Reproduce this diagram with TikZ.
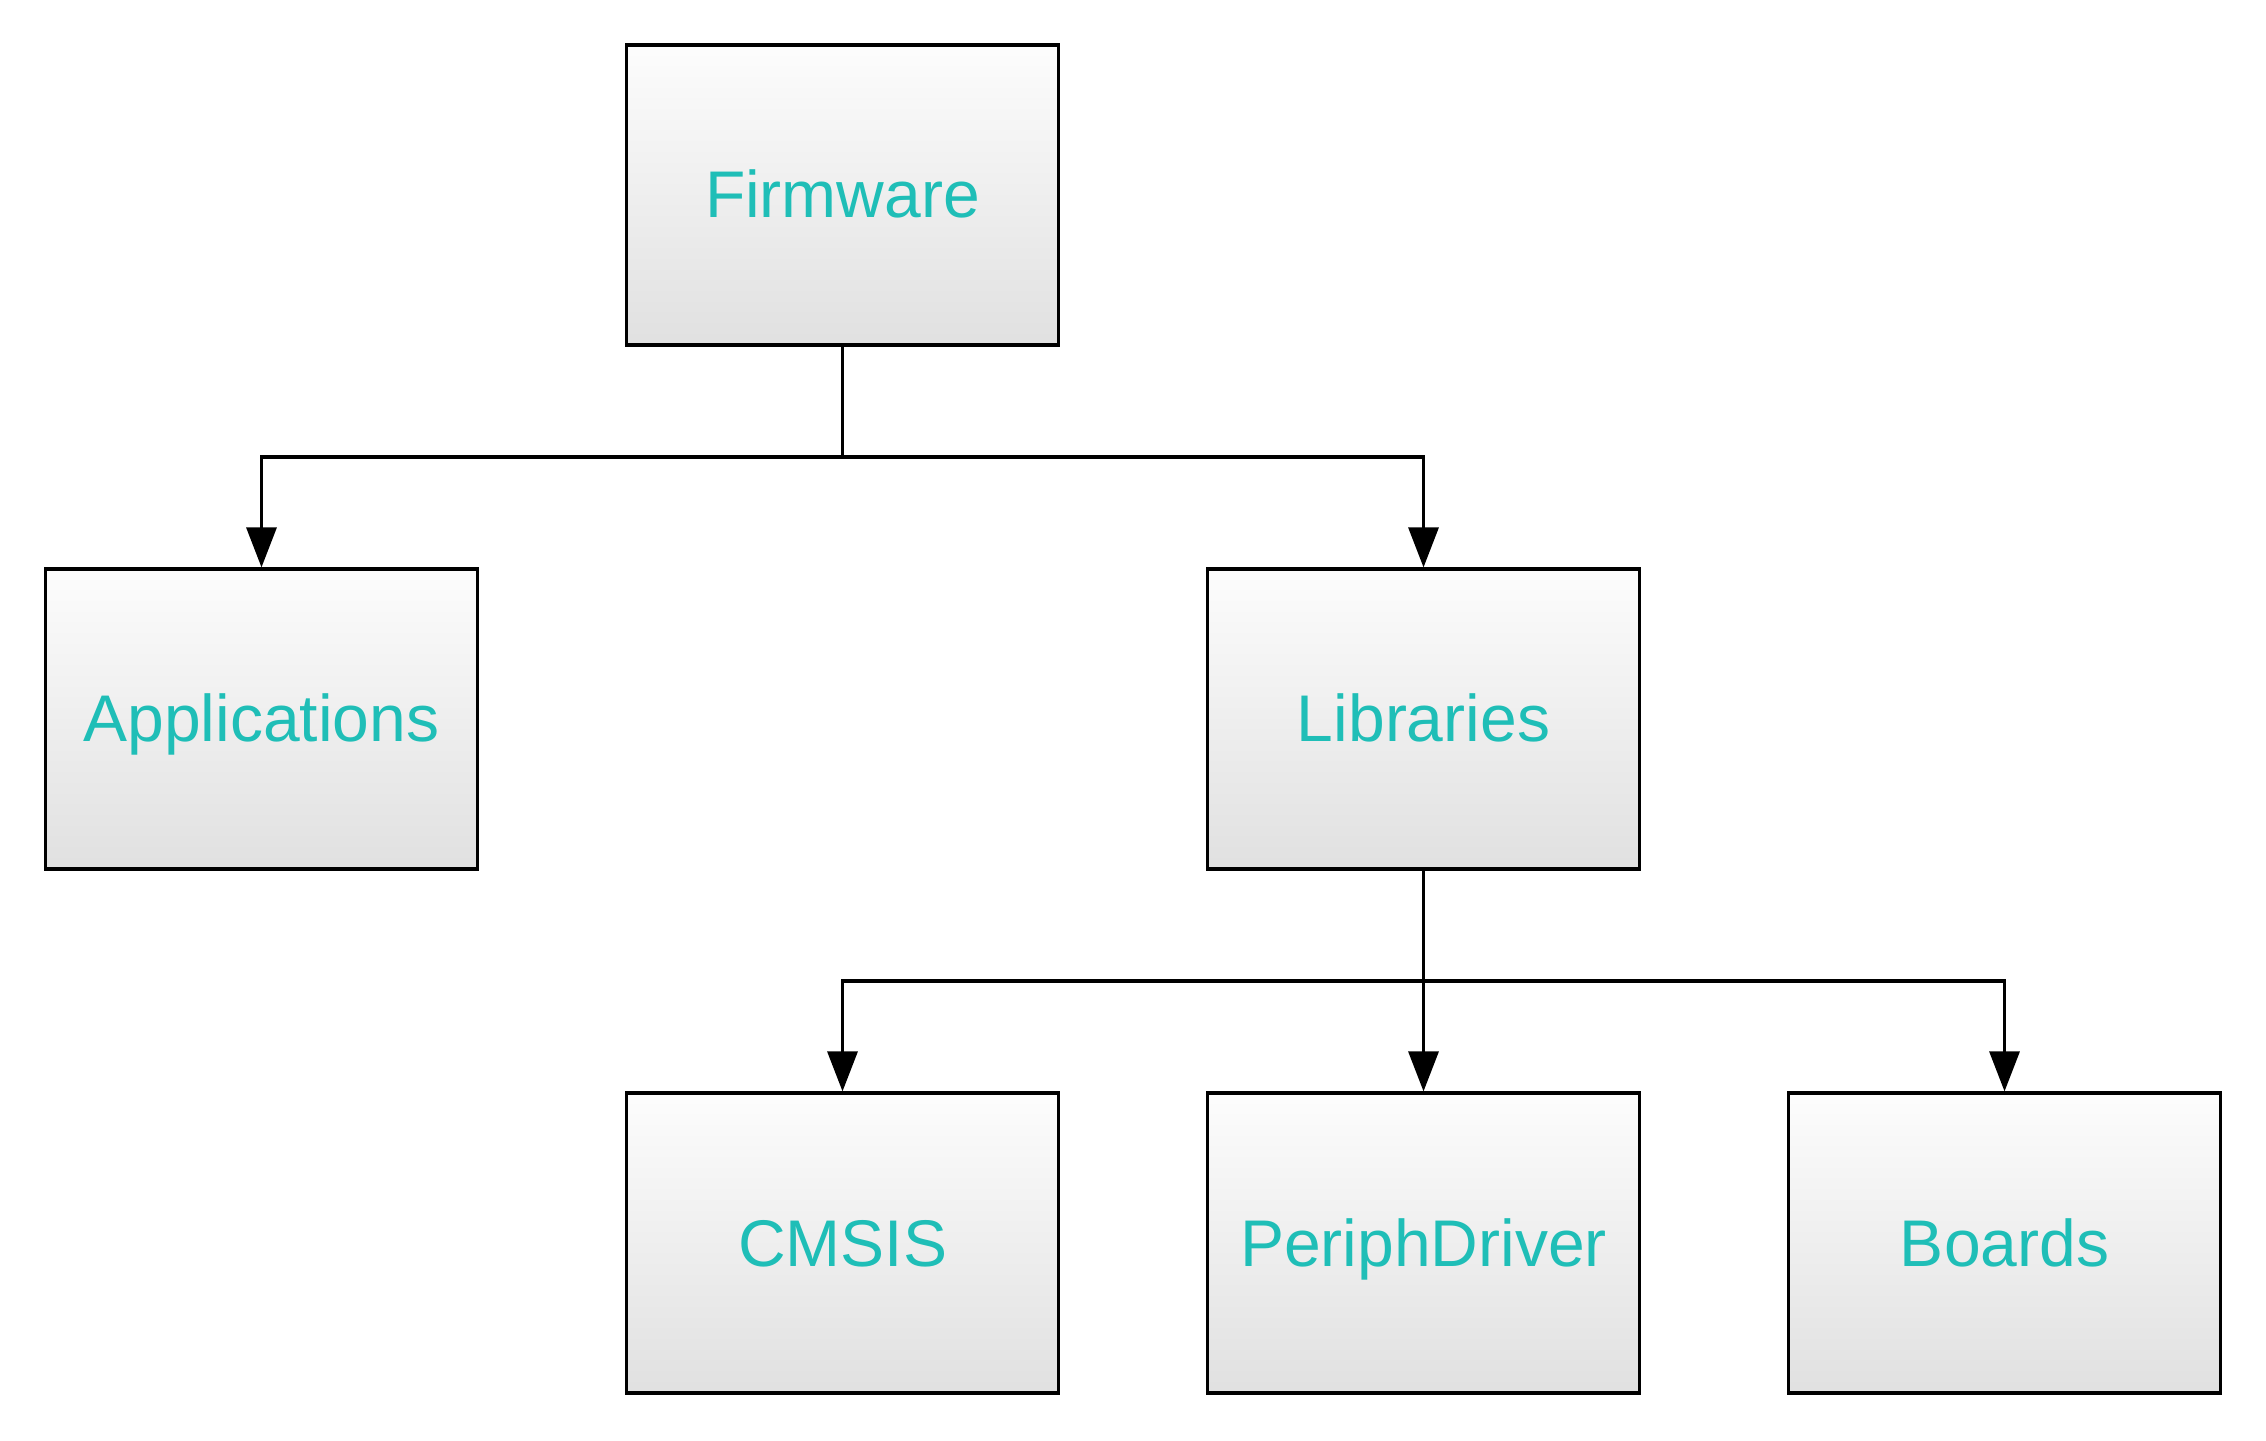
\documentclass[tikz,border=0pt]{standalone}
\usepackage{fontspec}
\setmainfont{Liberation Sans}
\usetikzlibrary{arrows.meta}

\definecolor{labelteal}{RGB}{31,190,183}

\tikzset{
  module/.style={draw=black, line width=0.8pt, rectangle, minimum width=108pt, minimum height=75pt,
    top color=black!1, bottom color=black!12, text=labelteal, inner sep=0pt,
    text height=12.5pt, text depth=1pt,
    font=\fontsize{16.5}{20}\selectfont},
  link/.style={line width=0.8pt, -{Triangle[length=10pt,width=7.5pt]}},
  trunk/.style={line width=0.8pt}
}

\begin{document}
\begin{tikzpicture}[x=0.25pt,y=0.25pt,yscale=-1,xscale=1]
				\useasboundingbox (0,0) rectangle (2266,1441);
				
				% Top level
				\node [module] (firmware) at (842.5,195) {Firmware};
				% Second level
				\node [module] (applications) at (261.5,719) {Applications};
				\node [module] (libraries) at (1423.5,719) {Libraries};
				% Third level
				\node [module] (cmsis) at (842.5,1243) {CMSIS};
				\node [module] (periphdriver) at (1423.5,1243) {PeriphDriver};
				\node [module] (boards) at (2004.5,1243) {Boards};
				
				% Junction points
				\coordinate (fwsplit) at (842.5,457);
				\coordinate (libsplit) at (1423.5,981);
				
				% Firmware to its parts
				\draw [trunk] (firmware.south) -- (fwsplit);
				\draw [link] (fwsplit) -| (applications.north);
				\draw [link] (fwsplit) -| (libraries.north);
				
				% Libraries to its parts
				\draw [trunk] (libraries.south) -- (libsplit);
				\draw [link] (libsplit) -| (cmsis.north);
				\draw [link] (libraries.south) -- (periphdriver.north);
				\draw [link] (libsplit) -| (boards.north);
				
\end{tikzpicture}
\end{document}
